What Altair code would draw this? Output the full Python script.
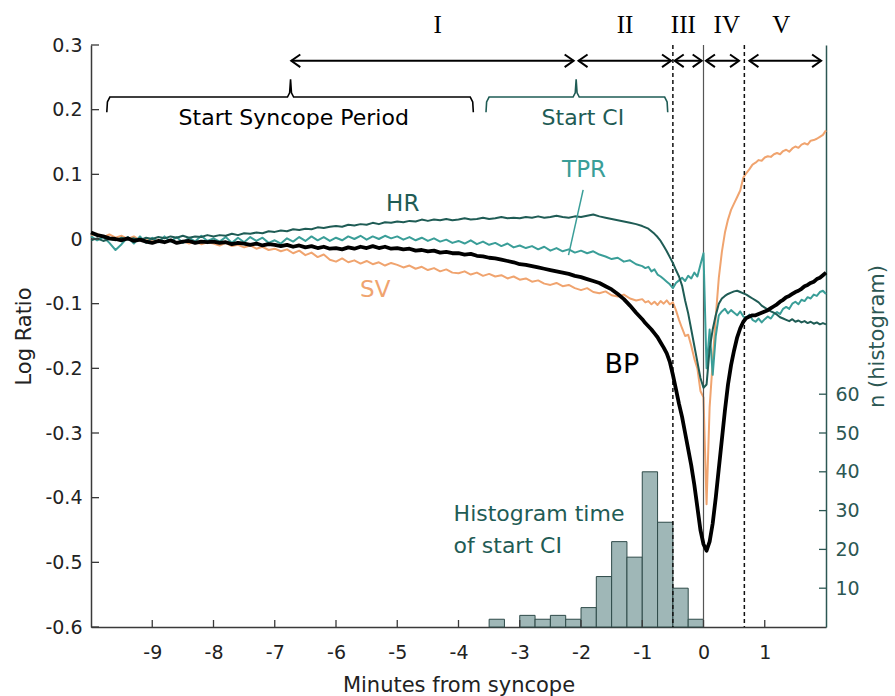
import altair as alt
import pandas as pd

# ---------------- data ----------------
minutes = [round(-10 + 0.1 * i, 2) for i in range(91)] + [round(-0.95 + 0.05 * i, 2) for i in range(60)]

bp = [0.010, 0.006, 0.004, 0.001, 0.000, -0.002, 0.001, -0.003, -0.001, -0.004,
      -0.006, -0.003, -0.005, -0.002, -0.006, -0.004, -0.003, -0.006, -0.004, -0.005,
      -0.004, -0.006, -0.005, -0.008, -0.006, -0.007, -0.009, -0.007, -0.010, -0.008,
      -0.009, -0.011, -0.009, -0.012, -0.010, -0.013, -0.011, -0.014, -0.012, -0.015,
      -0.014, -0.016, -0.013, -0.015, -0.012, -0.014, -0.011, -0.014, -0.012, -0.015,
      -0.014, -0.016, -0.015, -0.018, -0.017, -0.019, -0.018, -0.021, -0.020, -0.022,
      -0.022, -0.024, -0.023, -0.026, -0.027, -0.029, -0.030, -0.032, -0.034, -0.036,
      -0.039, -0.040, -0.042, -0.044, -0.046, -0.048, -0.050, -0.052, -0.054, -0.057,
      -0.059, -0.062, -0.065, -0.068, -0.073, -0.078, -0.085, -0.093, -0.103, -0.114,
      -0.124,
      -0.130, -0.135, -0.140, -0.146, -0.152, -0.160, -0.168, -0.177, -0.190, -0.210,
      -0.232, -0.255, -0.275, -0.300, -0.325, -0.350, -0.380, -0.415, -0.450, -0.472,
      -0.482, -0.468, -0.440, -0.400, -0.355, -0.310, -0.265, -0.225, -0.195, -0.172,
      -0.152, -0.138, -0.128, -0.122, -0.120, -0.118, -0.118, -0.116, -0.114, -0.112,
      -0.110, -0.107, -0.104, -0.101, -0.097, -0.094, -0.090, -0.088, -0.085, -0.082,
      -0.080, -0.077, -0.073, -0.071, -0.068, -0.066, -0.062, -0.060, -0.056, -0.052]

hr = [-0.002, 0.001, -0.003, 0.000, -0.002, 0.002, -0.001, 0.001, -0.002, 0.002,
      0.000, 0.003, 0.001, 0.004, 0.002, 0.005, 0.002, 0.004, 0.003, 0.006,
      0.004, 0.006, 0.005, 0.008, 0.006, 0.009, 0.008, 0.010, 0.009, 0.012,
      0.011, 0.013, 0.012, 0.015, 0.014, 0.016, 0.015, 0.018, 0.017, 0.019,
      0.020, 0.019, 0.022, 0.021, 0.023, 0.022, 0.025, 0.023, 0.026, 0.025,
      0.027, 0.026, 0.028, 0.027, 0.030, 0.028, 0.030, 0.029, 0.031, 0.029,
      0.030, 0.032, 0.030, 0.031, 0.033, 0.031, 0.032, 0.034, 0.032, 0.033,
      0.032, 0.034, 0.033, 0.035, 0.033, 0.034, 0.036, 0.034, 0.033, 0.035,
      0.034, 0.036, 0.038, 0.035, 0.033, 0.031, 0.029, 0.027, 0.025, 0.023,
      0.020,
      0.018, 0.016, 0.012, 0.008, 0.003, -0.003, -0.011, -0.019, -0.028, -0.037,
      -0.048, -0.058, -0.072, -0.095, -0.115, -0.140, -0.165, -0.190, -0.215, -0.230,
      -0.225, -0.170, -0.140, -0.118, -0.100, -0.092, -0.088, -0.085, -0.083, -0.081,
      -0.080, -0.082, -0.084, -0.086, -0.089, -0.092, -0.095, -0.098, -0.103, -0.106,
      -0.109, -0.112, -0.114, -0.117, -0.121, -0.123, -0.125, -0.127, -0.124, -0.128,
      -0.126, -0.129, -0.127, -0.130, -0.128, -0.131, -0.129, -0.132, -0.130, -0.132]

tpr = [0.004, -0.002, 0.003, -0.006, -0.017, -0.008, 0.003, -0.007, 0.004, -0.006,
       0.002, -0.005, 0.004, -0.004, 0.003, -0.006, 0.002, -0.004, 0.005, -0.003,
       0.001, -0.004, 0.003, -0.006, 0.002, -0.005, 0.003, -0.003, 0.002, -0.006,
       -0.002, -0.007, 0.001, -0.004, 0.003, -0.003, 0.004, -0.002, 0.003, -0.003,
       0.002, -0.002, 0.004, 0.000, 0.005, -0.001, 0.004, 0.000, 0.005, 0.001,
       0.004, -0.001, 0.003, -0.002, 0.002, -0.003, 0.001, -0.004, -0.001, -0.006,
       -0.003, -0.007, -0.002, -0.008, -0.004, -0.009, -0.006, -0.011, -0.007, -0.013,
       -0.010, -0.014, -0.011, -0.016, -0.012, -0.018, -0.014, -0.019, -0.016, -0.021,
       -0.018, -0.022, -0.019, -0.024, -0.027, -0.031, -0.029, -0.035, -0.033, -0.039,
       -0.042,
       -0.045, -0.043, -0.050, -0.047, -0.055, -0.058, -0.062, -0.066, -0.070, -0.076,
       -0.068, -0.064, -0.060, -0.065, -0.057, -0.061, -0.052, -0.058, -0.040, -0.022,
       -0.200, -0.140, -0.210, -0.150, -0.118, -0.112, -0.108, -0.115, -0.110, -0.114,
       -0.118, -0.112, -0.120, -0.122, -0.117, -0.125, -0.128, -0.123, -0.129, -0.124,
       -0.120, -0.123, -0.116, -0.113, -0.116, -0.108, -0.105, -0.108, -0.100, -0.097,
       -0.101, -0.094, -0.096, -0.090, -0.092, -0.086, -0.088, -0.082, -0.080, -0.085]

sv = [0.006, 0.008, 0.003, 0.007, 0.002, 0.005, 0.000, 0.004, -0.002, 0.001,
      -0.004, -0.001, -0.005, -0.002, -0.006, -0.003, -0.007, -0.004, -0.008, -0.005,
      -0.007, -0.010, -0.006, -0.011, -0.009, -0.013, -0.010, -0.015, -0.012, -0.017,
      -0.015, -0.019, -0.016, -0.022, -0.018, -0.025, -0.021, -0.028, -0.024, -0.032,
      -0.035, -0.030, -0.036, -0.033, -0.038, -0.034, -0.039, -0.036, -0.041, -0.037,
      -0.040, -0.044, -0.041, -0.046, -0.043, -0.048, -0.045, -0.050, -0.047, -0.052,
      -0.053, -0.050, -0.055, -0.052, -0.057, -0.054, -0.058, -0.056, -0.061, -0.058,
      -0.063, -0.061, -0.066, -0.064, -0.069, -0.071, -0.068, -0.073, -0.071, -0.076,
      -0.079, -0.076, -0.082, -0.084, -0.081, -0.087, -0.089, -0.086, -0.092, -0.095,
      -0.093,
      -0.098, -0.096, -0.101, -0.097, -0.102, -0.096, -0.100, -0.095, -0.101, -0.098,
      -0.110, -0.125, -0.138, -0.150, -0.148, -0.165, -0.185, -0.200, -0.235, -0.245,
      -0.410, -0.260, -0.190, -0.120, -0.060, -0.020, 0.010, 0.030, 0.045, 0.055,
      0.065, 0.075, 0.095, 0.102, 0.108, 0.115, 0.118, 0.122, 0.121, 0.126,
      0.128, 0.127, 0.131, 0.133, 0.131, 0.136, 0.138, 0.135, 0.140, 0.143,
      0.141, 0.146, 0.148, 0.146, 0.152, 0.153, 0.155, 0.158, 0.161, 0.168]

hist_start = [-3.5, -3.0, -2.75, -2.5, -2.25, -2.0, -1.75, -1.5, -1.25, -1.0, -0.75, -0.5, -0.25]
hist_n = [2, 3, 2, 3, 2, 5, 13, 22, 18, 40, 27, 10, 2]
bin_width = 0.25

x_ticks = [-9, -8, -7, -6, -5, -4, -3, -2, -1, 0, 1]
y_ticks = [-0.6, -0.5, -0.4, -0.3, -0.2, -0.1, 0, 0.1, 0.2, 0.3]
n_ticks = [10, 20, 30, 40, 50, 60]

# phase markers
dashed_lines = [-0.5, 0.667]
solid_lines = [0]
arrow_y = 0.2756
arrow_from = [-6.73, -2.04, -0.47, 0.04, 0.75]
arrow_to = [-2.12, -0.53, -0.03, 0.58, 1.92]
phase_labels = ["I", "II", "III", "IV", "V"]
phase_x = [-4.34, -1.28, -0.33, 0.38, 1.27]
phase_y = 0.331

# braces (left end, tip, right end)
brace_syncope = (-9.742, -6.742, -3.758)
brace_ci = (-3.551, -2.079, -0.584)
brace_y, brace_low, brace_top = 0.2195, 0.196, 0.247

# colours
C_BP = "#000000"
C_HR = "#1f5c55"
C_TPR = "#3a9e98"
C_SV = "#f0a46f"
C_AX = "#3a3a3a"
C_RAX = "#2c5753"

FONT = "DejaVu Sans"
W, H = 735, 582

x_scale = alt.Scale(domain=[-10, 2], nice=False, zero=False)
y_scale = alt.Scale(domain=[-0.6, 0.3], nice=False, zero=False)
n_scale = alt.Scale(domain=[0, 150], nice=False, zero=False)

# one identical x axis definition shared by every layer (shared x scale)
x_axis = alt.Axis(values=x_ticks, title="Minutes from syncope", tickSize=0, labelPadding=16,
                  labelExpr="toString(datum.value)", grid=False, domainColor=C_AX, domainWidth=1.5,
                  labelFontSize=19, titleFontSize=21, titlePadding=12, labelColor="#222",
                  titleColor="#222", titleFontWeight="normal", labelFont=FONT, titleFont=FONT)


def X(field="minute"):
    return alt.X(f"{field}:Q", scale=x_scale, axis=x_axis)


def Y(field="value"):
    return alt.Y(f"{field}:Q", scale=y_scale, axis=None)


def series(vals, color, width):
    df = pd.DataFrame({"minute": minutes, "value": vals})
    return alt.Chart(df).mark_line(color=color, strokeWidth=width, strokeJoin="round").encode(x=X(), y=Y())


# SV series carries the left axis
sv_df = pd.DataFrame({"minute": minutes, "value": sv})
sv_layer = alt.Chart(sv_df).mark_line(color=C_SV, strokeWidth=2, strokeJoin="round").encode(
    x=X(),
    y=alt.Y("value:Q", scale=y_scale,
            axis=alt.Axis(orient="left", values=y_ticks, title="Log Ratio", tickSize=0, labelPadding=9,
                          labelExpr="datum.value == 0 ? '0' : toString(round(datum.value * 10) / 10)",
                          grid=False, domainColor=C_AX, domainWidth=1.5, labelFontSize=19, titleFontSize=21,
                          titlePadding=10, labelColor="#222", titleColor="#222", titleFontWeight="normal",
                          labelFont=FONT, titleFont=FONT)),
)

tpr_layer = series(tpr, C_TPR, 2)
hr_layer = series(hr, C_HR, 2)
bp_layer = series(bp, C_BP, 3.8)

# inward ticks
xt = alt.Chart(pd.DataFrame({"minute": x_ticks})).mark_rule(color=C_AX, strokeWidth=1.3).encode(
    x=X(), y=alt.value(H), y2=alt.value(H - 7))
yt = alt.Chart(pd.DataFrame({"value": y_ticks})).mark_rule(color=C_AX, strokeWidth=1.3).encode(
    y=Y(), x=alt.value(0), x2=alt.value(8))

# vertical phase lines
dash_layer = alt.Chart(pd.DataFrame({"minute": dashed_lines})).mark_rule(
    color="#111", strokeWidth=1.5, strokeDash=[4, 3]).encode(x=X(), y=alt.value(0), y2=alt.value(H))
solid_layer = alt.Chart(pd.DataFrame({"minute": solid_lines})).mark_rule(
    color="#555", strokeWidth=1.2).encode(x=X(), y=alt.value(0), y2=alt.value(H))

# arrows
arrow_df = pd.DataFrame({"minute": arrow_from, "end": arrow_to, "value": [arrow_y] * 5})
arrow_lines = alt.Chart(arrow_df).mark_rule(color="#000", strokeWidth=2).encode(
    x=X(), x2="end:Q", y=Y())
head_left = alt.Chart(arrow_df).mark_point(
    shape="M1,-0.7L0,0L1,0.7", size=324, filled=False, stroke="#000", strokeWidth=2, opacity=1).encode(
    x=X(), y=Y())
head_right = alt.Chart(arrow_df).mark_point(
    shape="M-1,-0.7L0,0L-1,0.7", size=324, filled=False, stroke="#000", strokeWidth=2, opacity=1).encode(
    x=X("end"), y=Y())
phase_text = alt.Chart(pd.DataFrame({"minute": phase_x, "value": [phase_y] * 5, "label": phase_labels})).mark_text(
    font="Liberation Serif", fontSize=25, color="#000", baseline="middle", align="center").encode(
    x=X(), y=Y(), text="label:N")


def brace(left, tip, right):
    xs = [left, left + 0.01, left + 0.05, tip - 0.05, tip - 0.015, tip, tip + 0.015, tip + 0.05,
          right - 0.05, right - 0.01, right]
    ys = [brace_low, 0.212, brace_y, brace_y, 0.226, brace_top, 0.226, brace_y, brace_y, 0.212, brace_low]
    return pd.DataFrame({"minute": xs, "value": ys, "i": list(range(len(xs)))})


brace1 = alt.Chart(brace(*brace_syncope)).mark_line(color="#000", strokeWidth=1.6).encode(
    x=X(), y=Y(), order="i:Q")
brace2 = alt.Chart(brace(*brace_ci)).mark_line(color=C_HR, strokeWidth=1.6).encode(
    x=X(), y=Y(), order="i:Q")

# text annotations
labels_df = pd.DataFrame({
    "minute": [-6.69, -1.97, -4.91, -1.95, -5.36, -1.334],
    "value": [0.187, 0.187, 0.054, 0.107, -0.079, -0.195],
    "label": ["Start Syncope Period", "Start CI", "HR", "TPR", "SV", "BP"],
    "color": ["#000", C_HR, C_HR, C_TPR, C_SV, "#000"],
    "size": [22, 22, 23, 23, 23, 27],
})
labels = alt.Chart(labels_df).mark_text(font=FONT, baseline="middle", align="center").encode(
    x=X(), y=Y(), text="label:N", color=alt.Color("color:N", scale=None), size=alt.Size("size:Q", scale=None))

hist_text = alt.Chart(pd.DataFrame({"minute": [-4.08, -4.08], "value": [-0.425, -0.474],
                                    "label": ["Histogram time", "of start CI"]})).mark_text(
    font=FONT, fontSize=22, color=C_HR, baseline="middle", align="left").encode(x=X(), y=Y(), text="label:N")

tpr_leader = alt.Chart(pd.DataFrame({"minute": [-1.965, -2.204], "value": [0.076, -0.025]})).mark_line(
    color=C_TPR, strokeWidth=1.5).encode(x=X(), y=Y())

# histogram on right axis
hist_df = pd.DataFrame({"minute": hist_start, "end": [s + bin_width for s in hist_start],
                        "n": hist_n, "zero": [0] * len(hist_n)})
hist_bars = alt.Chart(hist_df).mark_bar(fill="#9fb7b7", stroke="#2e4a48", strokeWidth=1).encode(
    x=X(),
    x2="end:Q",
    y=alt.Y("n:Q", scale=n_scale,
            axis=alt.Axis(orient="right", values=n_ticks, title="n (histogram)", tickSize=0, labelPadding=9,
                          grid=False, domainColor=C_RAX, domainWidth=1.5, labelFontSize=19, titleFontSize=21,
                          titlePadding=7, titleAngle=270, titleBaseline="top",
                          labelColor=C_RAX, titleColor=C_RAX, titleFontWeight="normal",
                          labelFont=FONT, titleFont=FONT)),
    y2="zero:Q",
)
nt = alt.Chart(pd.DataFrame({"n": n_ticks})).mark_rule(color=C_RAX, strokeWidth=1.3).encode(
    y=alt.Y("n:Q", scale=n_scale, axis=None), x=alt.value(W), x2=alt.value(W - 7))

chart = alt.layer(
    sv_layer, hist_bars, nt, dash_layer, solid_layer, tpr_layer, hr_layer, bp_layer,
    xt, yt, arrow_lines, head_left, head_right, phase_text, brace1, brace2,
    labels, hist_text, tpr_leader,
).resolve_scale(y="independent").properties(
    width=W, height=H,
    padding={"left": 91, "top": 45, "right": 895 - 91 - W, "bottom": 696 - 45 - H},
    autosize=alt.AutoSizeParams(type="none"),
    background="white",
).configure_view(strokeOpacity=0)

chart.save("out.html", embed_options={"renderer": "svg", "actions": False})
